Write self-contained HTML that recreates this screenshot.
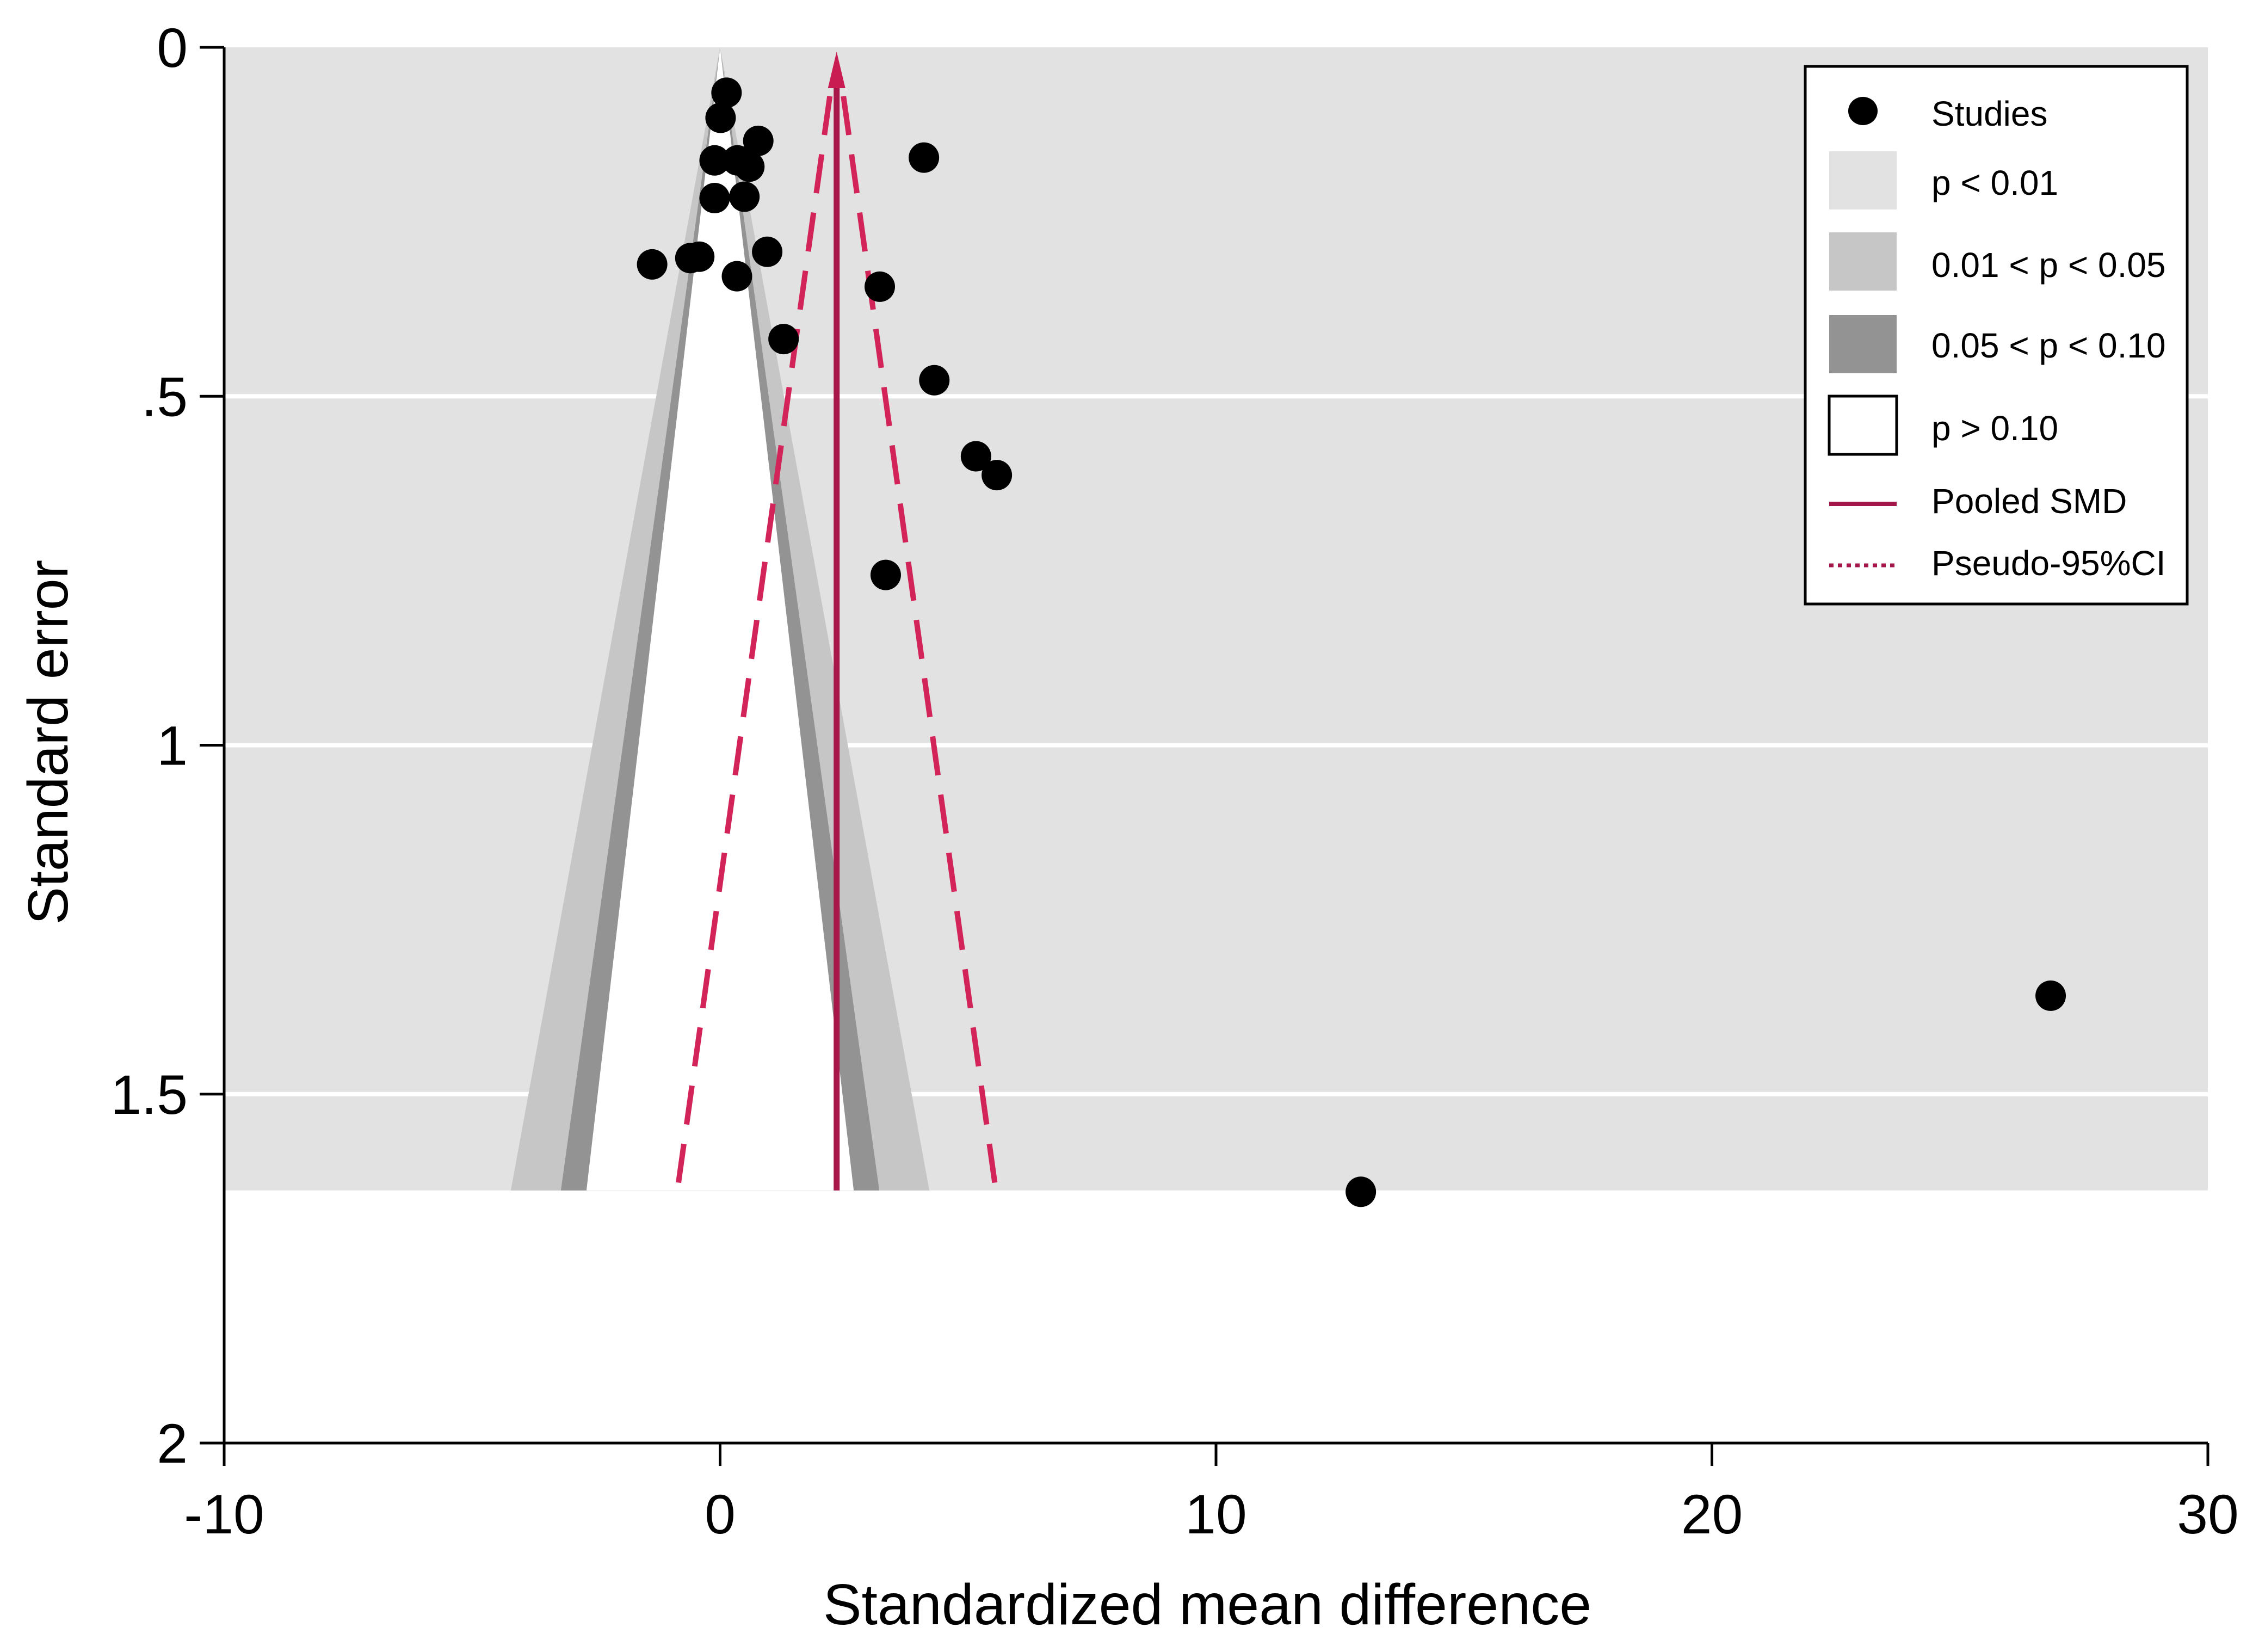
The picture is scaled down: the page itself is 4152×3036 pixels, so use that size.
<!DOCTYPE html>
<html><head><meta charset="utf-8"><style>
html,body{margin:0;padding:0;background:#fff;}
svg{display:block;font-family:"Liberation Sans",Arial,sans-serif;}
</style></head><body>
<svg id="chart" width="4152" height="3036" viewBox="0 0 4152 3036" xmlns="http://www.w3.org/2000/svg">
<g id="plot"></g>
</svg>
<script>
const xTicks = [-10, 0, 10, 20, 30];
const xTickLabels = ["-10", "0", "10", "20", "30"];
const yTicks = [0, 0.5, 1, 1.5, 2];
const yTickLabels = ["0", ".5", "1", "1.5", "2"];
const studySMD = [0.13, 0.01, 0.77, -0.11, 0.35, 0.59, -0.11, 0.49, -1.37, -0.60, -0.42, 0.95, 0.34, 1.28, 3.22, 4.11, 4.32, 5.16, 5.58, 3.34, 26.83, 12.92];
const studySE = [0.065, 0.101, 0.134, 0.162, 0.162, 0.171, 0.216, 0.214, 0.311, 0.302, 0.300, 0.293, 0.328, 0.418, 0.343, 0.158, 0.477, 0.586, 0.613, 0.756, 1.359, 1.640];
const pooledSMD = [2.35];
const maxSE = [1.638];
const zLevels = [2.576, 1.96, 1.645];

const NS = "http://www.w3.org/2000/svg";
const g = document.getElementById('plot');
const X0 = 412, X1 = 4058, Y0 = 87, Y1 = 2652;
function sx(v){ return X0 + (v + 10) / 40 * (X1 - X0); }
function sy(v){ return Y0 + v / 2 * (Y1 - Y0); }
function mk(tag, attrs, parent){
  const e = document.createElementNS(NS, tag);
  for (const k in attrs) e.setAttribute(k, attrs[k]);
  (parent || g).appendChild(e);
  return e;
}
const se = maxSE[0];
let r = mk('rect', {x:X0, y:Y0, width:X1-X0, height:sy(se)-Y0, fill:'#e2e2e2'});


[0.5, 1, 1.5].forEach(v => {
  const l = mk('line', {x1:X0, x2:X1, y1:sy(v), y2:sy(v), stroke:'#fff', 'stroke-width':8});
  
  
});
const fills = ['#c6c6c6', '#939393', '#ffffff'];
const cnames = ['contour-001-005', 'contour-005-010', 'contour-above-010'];
zLevels.forEach((z, i) => {
  const w = z * se;
  const p = mk('polygon', {points: `${sx(0)},${sy(0)} ${sx(w)},${sy(se)} ${sx(-w)},${sy(se)}`, fill: fills[i]});
  
  
});
const pm = pooledSMD[0];
[-1, 1].forEach(s => {
  const l = mk('line', {x1:sx(pm + s*1.96*0.07), y1:sy(0.07), x2:sx(pm + s*1.96*se), y2:sy(se), stroke:'#d3245a', 'stroke-width':10, 'stroke-dasharray':'72 36'});
  
  
});
const pl = mk('line', {x1:sx(pm), x2:sx(pm), y1:sy(0)+60, y2:sy(se), stroke:'#a8174a', 'stroke-width':11});


const ah = mk('polygon', {points:`${sx(pm)},${sy(0)+8} ${sx(pm)+16},${sy(0)+75} ${sx(pm)-16},${sy(0)+75}`, fill:'#c81c52'});


studySMD.forEach((v, i) => {
  const c = mk('circle', {cx:sx(v), cy:sy(studySE[i]), r:28, fill:'#000'});
  
  
});
const ya = mk('line', {x1:X0, x2:X0, y1:Y0, y2:Y1, stroke:'#000', 'stroke-width':5});


const xa = mk('line', {x1:X0, x2:X1, y1:Y1, y2:Y1, stroke:'#000', 'stroke-width':5});


yTicks.forEach((v, i) => {
  const t = mk('line', {x1:X0-45, x2:X0, y1:sy(v), y2:sy(v), stroke:'#000', 'stroke-width':5});
  
  
  const tx = mk('text', {x:345, y:sy(v)+36, 'text-anchor':'end', 'font-size':102});
  tx.textContent = yTickLabels[i];
  
  
});
xTicks.forEach((v, i) => {
  const t = mk('line', {x1:sx(v), x2:sx(v), y1:Y1, y2:Y1+42, stroke:'#000', 'stroke-width':5});
  
  
  const tx = mk('text', {x:sx(v), y:2818, 'text-anchor':'middle', 'font-size':102});
  tx.textContent = xTickLabels[i];
  
  
});
const xt = mk('text', {x:2219, y:2985, 'text-anchor':'middle', 'font-size':106});
xt.textContent = 'Standardized mean difference';


const yt = mk('text', {x:0, y:0, 'text-anchor':'middle', 'font-size':104, transform:'translate(124,1364) rotate(-90)'});
yt.textContent = 'Standard error';


const lg = mk('g', {});


mk('rect', {x:3318, y:122, width:702, height:988, fill:'#fff', stroke:'#000', 'stroke-width':5}, lg);
const le = mk('ellipse', {cx:3424, cy:204, rx:27, ry:26, fill:'#000'}, lg);


const sw = [[278,'#e2e2e2','none'],[427,'#c6c6c6','none'],[579,'#939393','none'],[728,'#fff','#000']];
sw.forEach(s => {
  const e = mk('rect', {x:3362, y:s[0], width:124, height:107, fill:s[1], stroke:s[2], 'stroke-width':5}, lg);
  
  
});
const ll = mk('line', {x1:3362, x2:3486, y1:926, y2:926, stroke:'#a3174a', 'stroke-width':8}, lg);


const ld = mk('line', {x1:3362, x2:3486, y1:1039, y2:1039, stroke:'#a3174a', 'stroke-width':7, 'stroke-dasharray':'8 8'}, lg);


const labels = [['Studies',231],['p < 0.01',358],['0.01 < p < 0.05',509],['0.05 < p < 0.10',657],['p > 0.10',809],['Pooled SMD',943],['Pseudo-95%CI',1057]];
labels.forEach(l => {
  const t = mk('text', {x:3550, y:l[1], 'font-size':64}, lg);
  t.textContent = l[0];
  
  
});
</script>
</body></html>
